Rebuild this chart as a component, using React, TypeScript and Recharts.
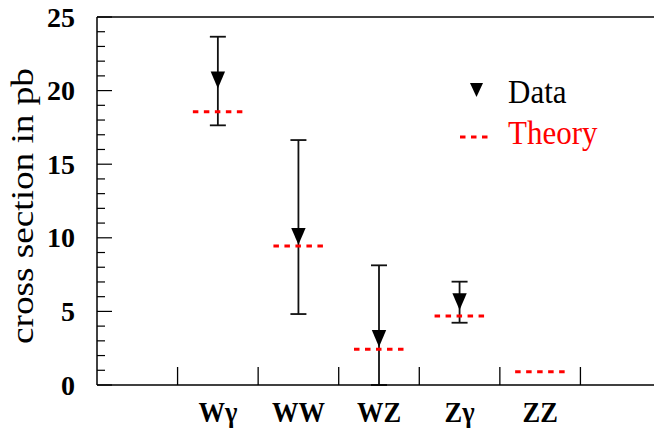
import {
  ComposedChart,
  Scatter,
  XAxis,
  YAxis,
  ErrorBar,
  ReferenceLine,
  Legend,
} from "recharts";

const categories = ["Wγ", "WW", "WZ", "Zγ", "ZZ"];
const measured = [20.72, 10.1, 3.16, 5.67, null];
const measuredLow = [17.64, 4.82, 0, 4.23, null];
const measuredHigh = [23.66, 16.64, 8.13, 7.02, null];
const theory = [18.57, 9.44, 2.43, 4.69, 0.9];
const yTicks = [
  0, 1, 2, 3, 4, 5, 6, 7, 8, 9, 10, 11, 12, 13, 14, 15, 16, 17, 18, 19, 20, 21,
  22, 23, 24, 25,
];
const xBoundaries = [1, 2, 3, 4, 5, 6];

const serif = { fontFamily: "Liberation Serif, Tinos, DejaVu Serif, serif" };
const RED = "#ff0000";

// categories sit between the boundary ticks
const catPos = categories.map((_, i) => i + 1.5);
const xTicks = [...xBoundaries, ...catPos].sort((a, b) => a - b);

const dataPoints = categories
  .map((c, i) => ({
    name: c,
    x: catPos[i],
    y: measured[i],
    err:
      measured[i] == null
        ? null
        : [measured[i]! - measuredLow[i]!, measuredHigh[i]! - measured[i]!],
  }))
  .filter((d) => d.y != null);

const theoryPoints = categories.map((c, i) => ({
  name: c,
  x: catPos[i],
  y: theory[i],
}));

// eslint-disable-next-line @typescript-eslint/no-explicit-any
function XTick({ x, y, payload }: any) {
  const v = payload.value;
  if (Number.isInteger(v)) {
    return <line x1={x} x2={x} y1={y} y2={y - 18} stroke="#000" strokeWidth={1.3} />;
  }
  const label = categories[Math.round(v - 1.5)];
  return (
    <text
      transform={`translate(${x},${y + 37}) scale(1,1.1)`}
      textAnchor="middle"
      style={{ ...serif, fontWeight: "bold", fontSize: 26.5 }}
      fill="#000"
    >
      {label}
    </text>
  );
}

// eslint-disable-next-line @typescript-eslint/no-explicit-any
function YTick({ x, y, payload }: any) {
  const v = payload.value;
  const major = v % 5 === 0;
  return (
    <g>
      <line x1={x} x2={x + (major ? 15 : 8)} y1={y} y2={y} stroke="#000" strokeWidth={1.2} />
      {major && (
        <text
          x={x - 22}
          y={y + 9.5}
          textAnchor="end"
          style={{ ...serif, fontWeight: "bold", fontSize: 28 }}
          fill="#000"
        >
          {v}
        </text>
      )}
    </g>
  );
}

// eslint-disable-next-line @typescript-eslint/no-explicit-any
function YTitle({ viewBox }: any) {
  const cx = viewBox.x + 33;
  const cy = viewBox.y + viewBox.height / 2 + 5;
  return (
    <text
      transform={`translate(${cx},${cy}) rotate(-90) scale(1.2,1)`}
      textAnchor="middle"
      style={{ ...serif, fontSize: 31 }}
      fill="#000"
    >
      cross section in pb
    </text>
  );
}

// eslint-disable-next-line @typescript-eslint/no-explicit-any
function TriangleDown({ cx, cy }: any) {
  const w = 7.2;
  const h = 8.4;
  return <path d={`M${cx - w},${cy - h}L${cx + w},${cy - h}L${cx},${cy + h}Z`} fill="#000" />;
}

// eslint-disable-next-line @typescript-eslint/no-explicit-any
function TheoryDash({ cx, cy }: any) {
  return (
    <line
      x1={cx - 25}
      x2={cx + 25}
      y1={cy}
      y2={cy}
      stroke={RED}
      strokeWidth={3}
      strokeDasharray="5.5 5.5"
    />
  );
}

function LegendBox() {
  return (
    <svg width={170} height={90}>
      <path d="M15,13L28,13L21.5,27Z" fill="#000" />
      <text transform="translate(53,33) scale(1,1.12)" style={{ ...serif, fontSize: 31 }} fill="#000">
        Data
      </text>
      <line x1={5} x2={33} y1={67} y2={67} stroke={RED} strokeWidth={3} strokeDasharray="5.5 5.5" />
      <text transform="translate(53,74) scale(1,1.12)" style={{ ...serif, fontSize: 31 }} fill={RED}>
        Theory
      </text>
    </svg>
  );
}

export default function App() {
  return (
    <div
      style={{
        position: "absolute",
        left: 0,
        top: 0,
        width: 654,
        height: 432,
        overflow: "hidden",
        background: "#fff",
      }}
    >
      <ComposedChart
        width={662}
        height={432}
        margin={{ top: 17, right: 1, left: 0, bottom: 0 }}
      >
        <XAxis
          type="number"
          dataKey="x"
          domain={[0, 7]}
          ticks={xTicks}
          interval={0}
          allowDataOverflow
          tickSize={0}
          tickMargin={0}
          tickLine={false}
          tick={<XTick />}
          axisLine={{ stroke: "#000", strokeWidth: 1.5 }}
          height={47}
        />
        <YAxis
          type="number"
          dataKey="y"
          domain={[0, 25]}
          ticks={yTicks}
          interval={0}
          allowDataOverflow
          tickSize={0}
          tickMargin={0}
          tickLine={false}
          tick={<YTick />}
          axisLine={{ stroke: "#000", strokeWidth: 1.5 }}
          width={97}
          label={(props: unknown) => <YTitle {...(props as object)} />}
        />
        <ReferenceLine y={25} stroke="#000" strokeWidth={1.5} />
        <Legend
          layout="horizontal"
          verticalAlign="middle"
          align="center"
          content={<LegendBox />}
          wrapperStyle={{ left: 455, top: 70, width: 170, height: 90 }}
        />
        <Scatter
          name="Theory"
          data={theoryPoints}
          shape={<TheoryDash />}
          isAnimationActive={false}
        />
        <Scatter
          name="Data"
          data={dataPoints}
          shape={<TriangleDown />}
          isAnimationActive={false}
        >
          <ErrorBar
            dataKey="err"
            direction="y"
            width={8}
            stroke="#111"
            strokeWidth={1.8}
            isAnimationActive={false}
          />
        </Scatter>
      </ComposedChart>
    </div>
  );
}
